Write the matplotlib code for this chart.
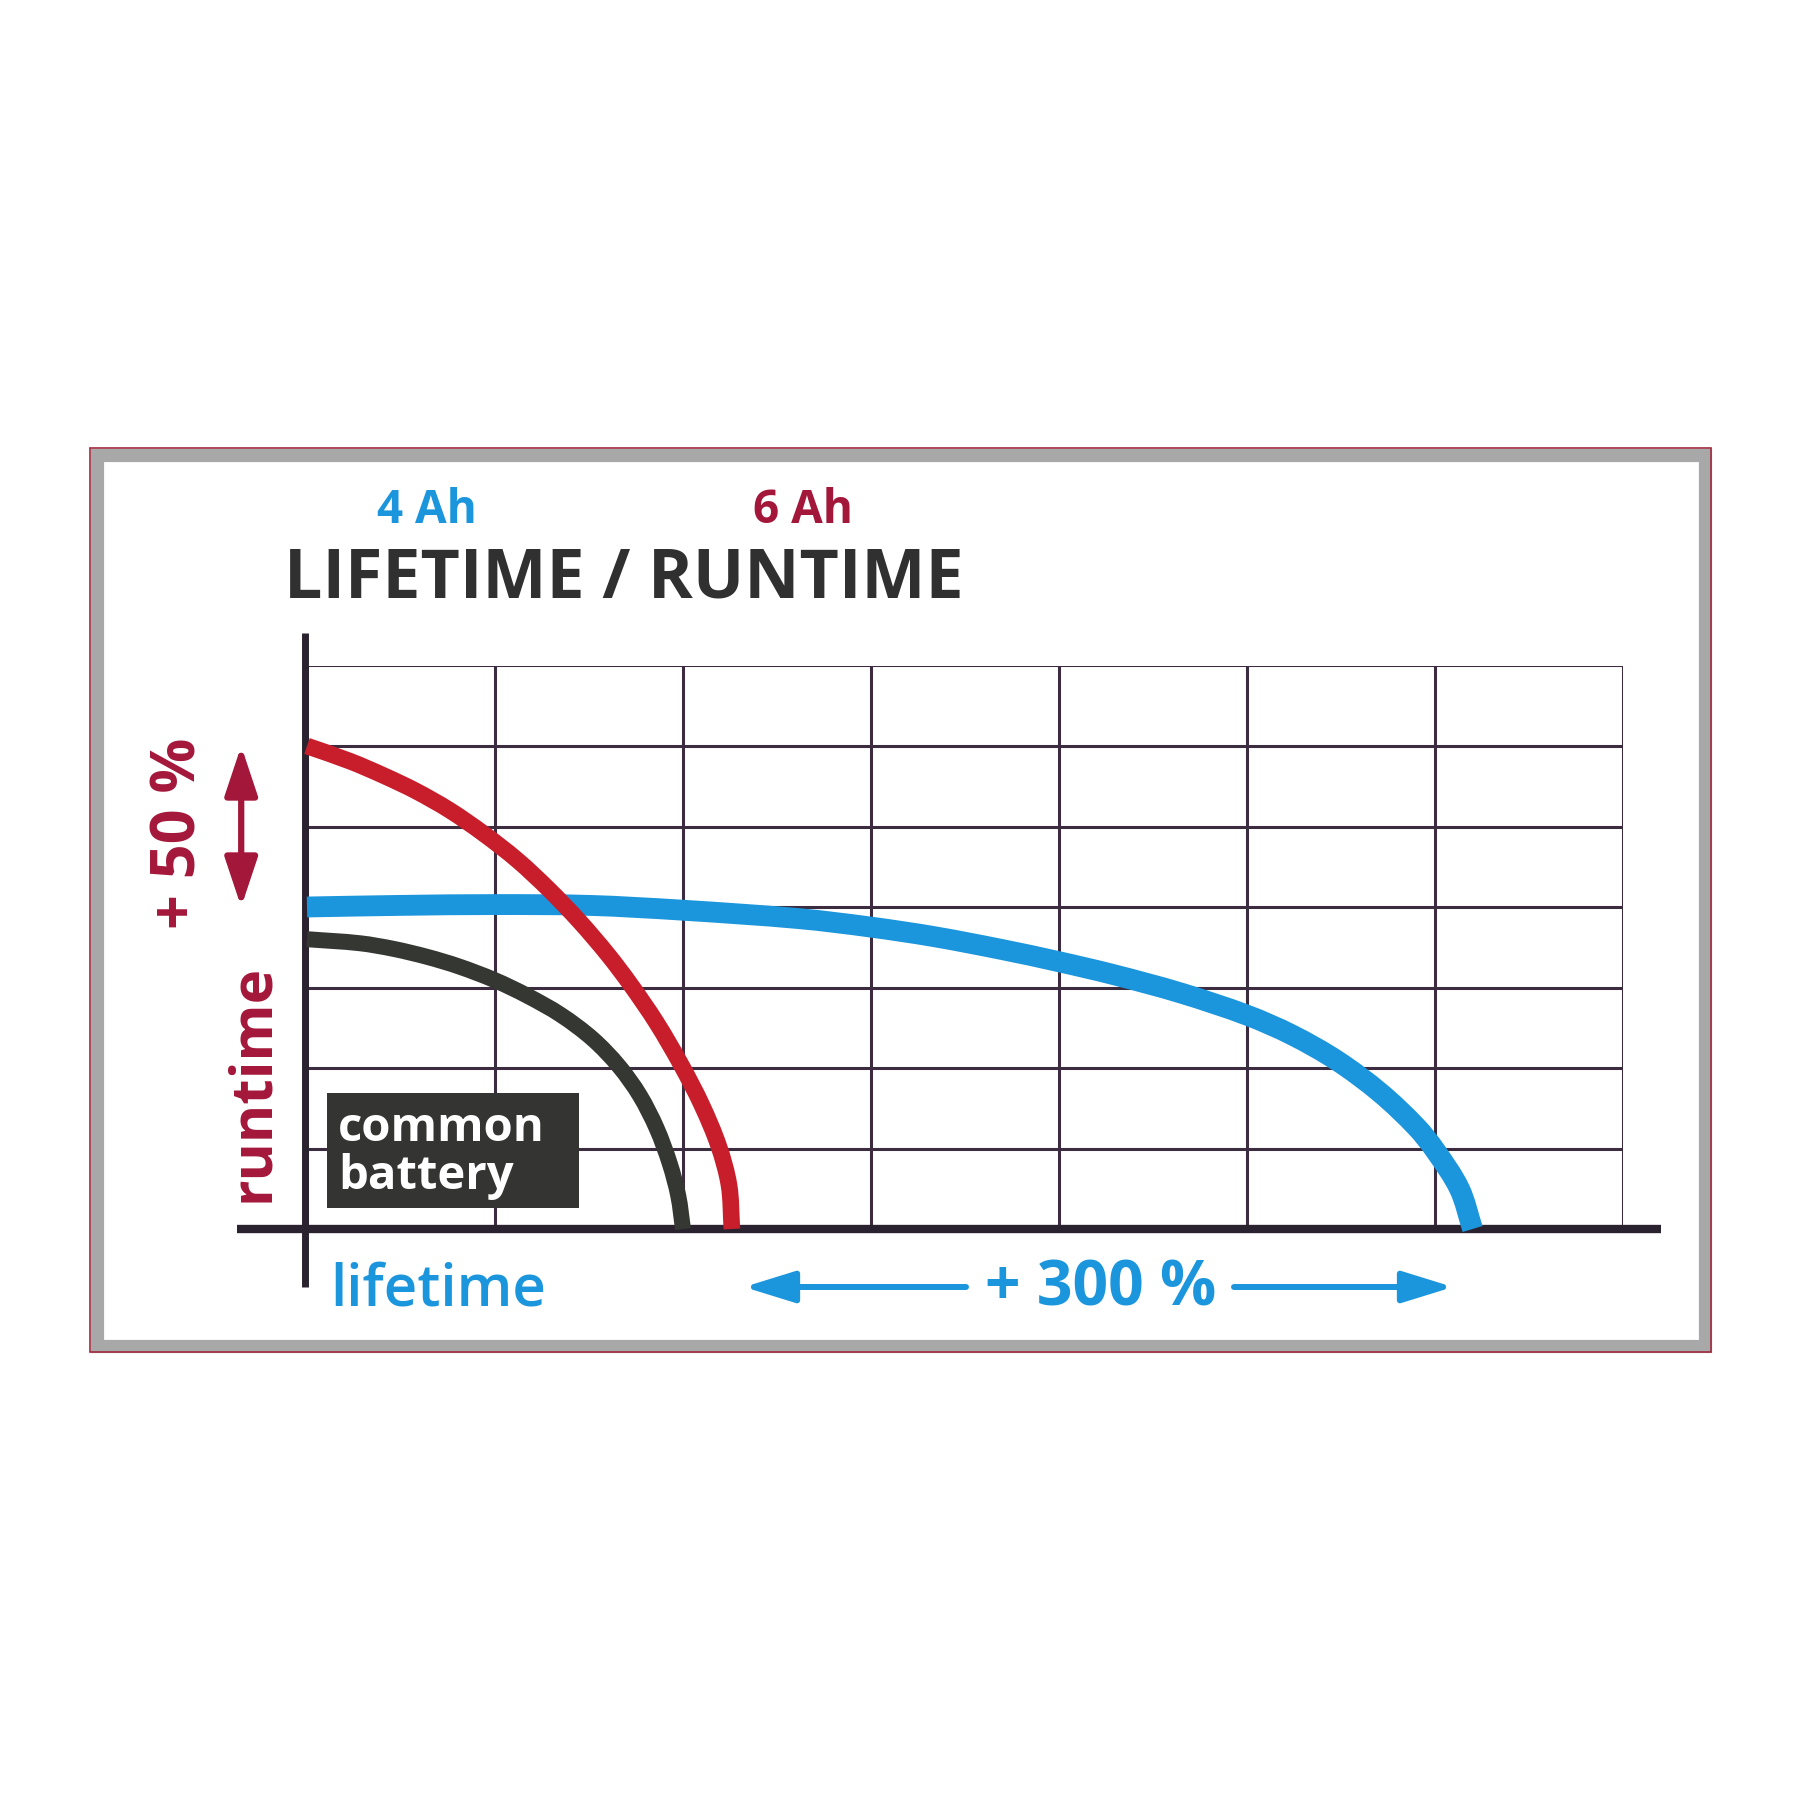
import numpy as np
import matplotlib.pyplot as plt
from matplotlib.patches import Rectangle, FancyArrowPatch, PathPatch
from matplotlib.path import Path

# curves, in grid cells (7 columns x 7 rows)
blue_x = [0.0, 0.5, 1.0, 1.5, 2.0, 2.62, 3.0, 3.34, 3.7, 4.0, 4.29, 4.65, 5.0, 5.24, 5.48, 5.71, 5.9, 6.0, 6.13, 6.2]
blue_y = [4.0, 4.02, 4.03, 4.02, 3.96, 3.855, 3.75, 3.63, 3.47, 3.32, 3.16, 2.93, 2.656, 2.41, 2.09, 1.69, 1.27, 0.98, 0.5, 0.0]

red_x = [0.0, 0.23, 0.41, 0.58, 0.76, 0.94, 1.12, 1.29, 1.45, 1.6, 1.72, 1.86, 1.99, 2.1, 2.19, 2.245, 2.26]
red_y = [6.0, 5.81, 5.63, 5.44, 5.2, 4.91, 4.58, 4.21, 3.82, 3.41, 3.04, 2.56, 2.04, 1.54, 1.03, 0.54, 0.0]

black_x = [0.0, 0.28, 0.46, 0.64, 0.81, 1.0, 1.17, 1.35, 1.52, 1.66, 1.77, 1.86, 1.93, 1.975, 2.0]
black_y = [3.6, 3.55, 3.48, 3.38, 3.26, 3.09, 2.9, 2.66, 2.36, 2.02, 1.66, 1.25, 0.81, 0.41, 0.0]

n_cols = 7
n_rows = 7

title = 'LIFETIME / RUNTIME'
label_4ah = '4 Ah'
label_6ah = '6 Ah'
label_gain_y = '+ 50 %'
label_gain_x = '+ 300 %'

BLUE = '#1b95dc'
RED = '#c81e2c'
MAROON = '#a3173a'
DARK = '#353832'
GRID = '#3c2c40'

plt.rcParams['font.family'] = ['Open Sans', 'DejaVu Sans']

S = 1800.0
def fx(p):
    return p / S
def fy(p):
    return 1 - p / S

# grid geometry in pixels
gx0, gy0 = 307, 1229
cw, ch = 188.0, 80.5


def smooth_path(xs, ys):
    # Bezier through the read points, tangents and handle lengths taken in pixel space
    scale = np.array([cw, ch])
    P = np.column_stack([xs, ys]).astype(float) * scale
    n = len(P)
    tang = []
    for i in range(n):
        if i == 0:
            t = P[1] - P[0]
        elif i == n - 1:
            t = P[-1] - P[-2]
        else:
            t = P[i + 1] - P[i - 1]
        tang.append(t / np.hypot(*t))
    verts = [P[0]]
    codes = [Path.MOVETO]
    for i in range(n - 1):
        d = np.hypot(*(P[i + 1] - P[i]))
        verts += [P[i] + tang[i] * d / 3, P[i + 1] - tang[i + 1] * d / 3, P[i + 1]]
        codes += [Path.CURVE4] * 3
    return Path(np.array(verts) / scale, codes)


fig = plt.figure(figsize=(18, 18), dpi=100)
fig.patch.set_facecolor('white')

# frame
fig.add_artist(Rectangle((fx(96.5), fy(1345.5)), (1704.5 - 96.5) / S, (1345.5 - 454.5) / S,
                         transform=fig.transFigure, fill=False, ec='#a8a8a8', lw=9.5))
fig.add_artist(Rectangle((fx(90), fy(1352)), (1711 - 90) / S, (1352 - 448) / S,
                         transform=fig.transFigure, fill=False, ec='#9e2a3e', lw=1.2))

ax = fig.add_axes([fx(gx0), fy(gy0), n_cols * cw / S, n_rows * ch / S])
ax.set_xlim(0, n_cols)
ax.set_ylim(0, n_rows)
for s in ax.spines.values():
    s.set_visible(False)
ax.set_xticks(np.arange(n_cols + 1))
ax.set_yticks(np.arange(n_rows + 1))
ax.tick_params(length=0, labelbottom=False, labelleft=False)
ax.grid(True, color=GRID, lw=2.2)
ax.set_axisbelow(True)
ax.patch.set_alpha(0)

# axis lines
ax.plot([-0.37, 7.2], [0, 0], color='#2b2230', lw=6, solid_capstyle='butt', clip_on=False, zorder=2)
ax.plot([-0.01, -0.01], [-0.72, 7.4], color='#2b2230', lw=5, solid_capstyle='butt', clip_on=False, zorder=2)

# curves
ax.add_patch(PathPatch(smooth_path(blue_x, blue_y), fill=False, ec=BLUE, lw=15,
                       capstyle='butt', clip_on=False, zorder=3))
ax.add_patch(PathPatch(smooth_path(black_x, black_y), fill=False, ec=DARK, lw=11.5,
                       capstyle='butt', clip_on=False, zorder=3))
ax.add_patch(PathPatch(smooth_path(red_x, red_y), fill=False, ec=RED, lw=12,
                       capstyle='butt', clip_on=False, zorder=4))

# +50 % arrow spans blue start to red start
arr = FancyArrowPatch((-0.35, blue_y[0]), (-0.35, red_y[0]), transform=ax.transData,
                      arrowstyle='<|-|>,head_length=1.5,head_width=0.5', mutation_scale=20,
                      color=MAROON, lw=4.5, shrinkA=0, shrinkB=0, clip_on=False)
ax.add_patch(arr)

# common battery box
fig.add_artist(Rectangle((fx(327), fy(1208)), (579 - 327) / S, (1208 - 1093) / S,
                         transform=fig.transFigure, fc='#343532', ec='none', zorder=5))
fig.text(fx(338), fy(1141), 'common', color='white', fontsize=34, fontweight='bold',
         ha='left', va='baseline', zorder=6)
fig.text(fx(338), fy(1189), 'battery', color='white', fontsize=34, fontweight='bold',
         ha='left', va='baseline', zorder=6)

# texts
fig.text(fx(377), fy(523), label_4ah, color=BLUE, fontsize=33, fontweight='bold',
         ha='left', va='baseline')
fig.text(fx(753), fy(523), label_6ah, color=MAROON, fontsize=33, fontweight='bold',
         ha='left', va='baseline')
fig.text(fx(284), fy(597), title, color='#303030', fontsize=49, fontweight='bold',
         ha='left', va='baseline')

fig.text(fx(195), fy(929), label_gain_y, color=MAROON, fontsize=44, fontweight='bold',
         rotation=90, rotation_mode='anchor', ha='left', va='baseline')
fig.text(fx(268), fy(1202), 'runtime', color=MAROON, fontsize=42, fontweight='bold',
         rotation=90, rotation_mode='anchor', ha='left', va='baseline')

fig.text(fx(330), fy(1306), 'lifetime', color=BLUE, fontsize=42, fontweight='semibold',
         ha='left', va='baseline')
fig.text(fx(1101), fy(1306), label_gain_x, color=BLUE, fontsize=45, fontweight='bold',
         ha='center', va='baseline')

# +300 % arrows
for a, b in [((966, 1287), (744, 1287)), ((1234, 1287), (1453, 1287))]:
    fig.add_artist(FancyArrowPatch((fx(a[0]), fy(a[1])), (fx(b[0]), fy(b[1])),
                                   transform=fig.transFigure,
                                   arrowstyle='-|>,head_length=1.55,head_width=0.48',
                                   mutation_scale=20, color=BLUE, lw=4.3,
                                   shrinkA=0, shrinkB=0))

fig.savefig('out.png', dpi=100, facecolor='white')
